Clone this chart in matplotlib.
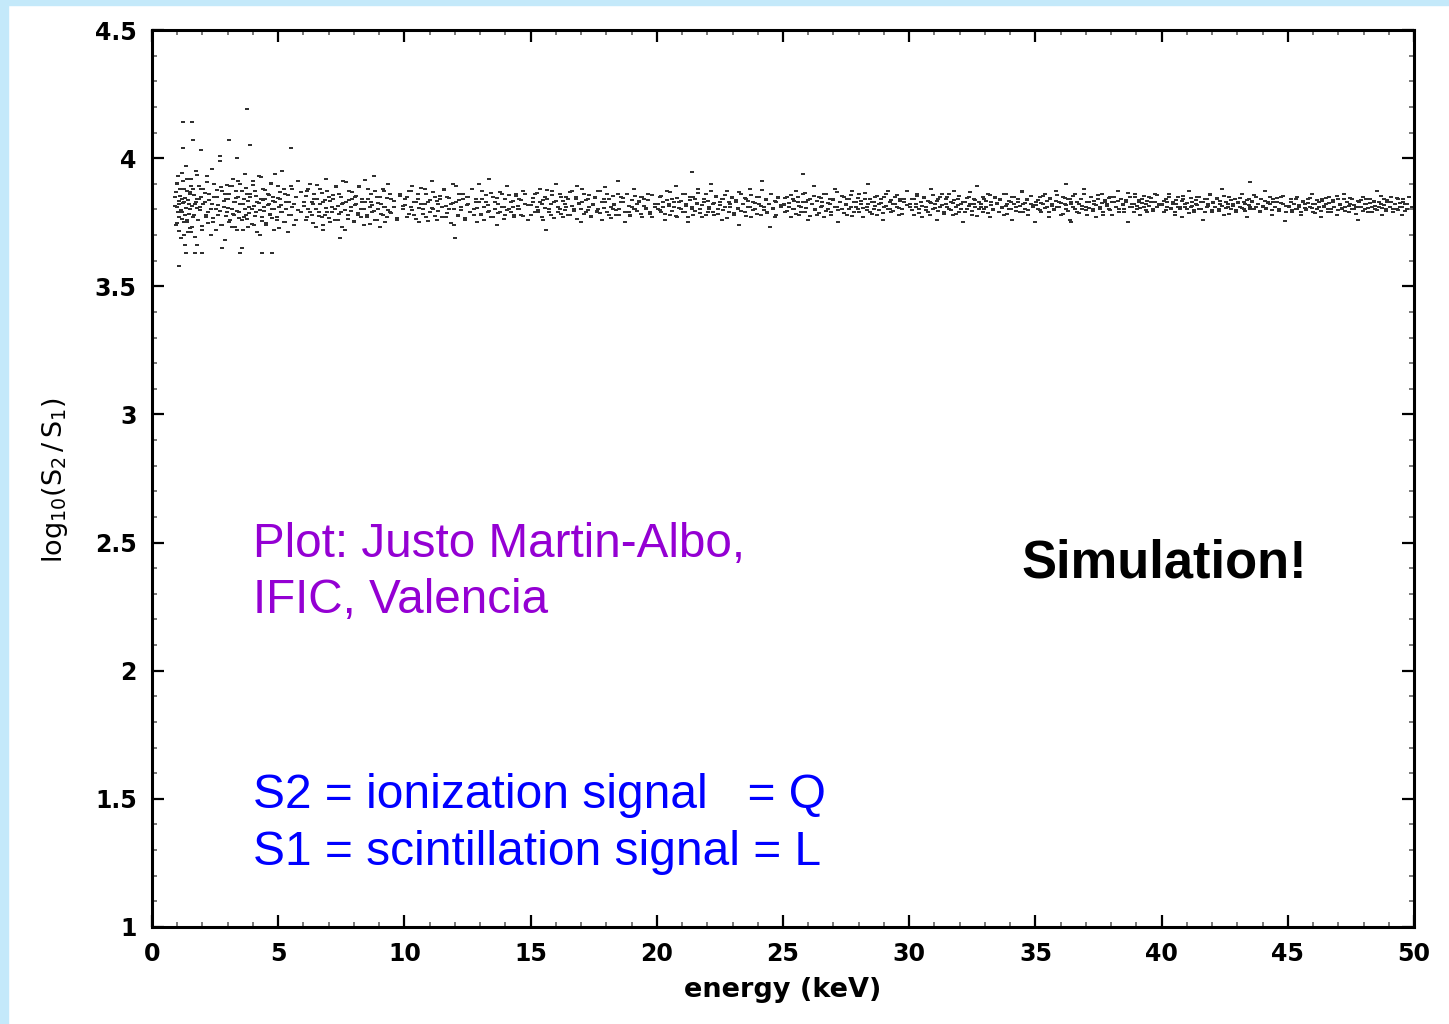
import numpy as np
import matplotlib.pyplot as plt
from matplotlib.patches import Rectangle
from matplotlib.ticker import MultipleLocator

# Punkty: energia [keV] i log10(S2/S1), w przedzialach energii.
# Dla kazdej energii sa dwa zdarzenia (r_... i r2_...).
e_01_03 = [0.92, 0.95, 0.98, 1.01, 1.03, 1.06, 1.08, 1.11, 1.14, 1.17,
           1.19, 1.22, 1.25, 1.28, 1.31, 1.34, 1.37, 1.40, 1.43, 1.46,
           1.49, 1.52, 1.55, 1.59, 1.62, 1.66, 1.69, 1.73, 1.77, 1.80,
           1.84, 1.88, 1.92, 1.96, 2.00, 2.04, 2.09, 2.13, 2.18, 2.22,
           2.27, 2.32, 2.37, 2.42, 2.47, 2.52, 2.57, 2.62, 2.68, 2.73,
           2.79, 2.84, 2.89, 2.94, 2.99]
r_01_03 = [3.85, 3.74, 3.90, 3.81, 3.93, 3.77, 3.82, 3.88, 3.69, 3.84,
           3.79, 3.91, 3.75, 3.83, 3.78, 3.97, 3.76, 3.87, 3.71, 3.82,
           3.86, 3.80, 3.92, 3.73, 3.88, 3.78, 3.82, 3.95, 3.66, 3.84,
           3.76, 3.89, 3.81, 3.85, 3.72, 3.88, 3.83, 3.77, 3.93, 3.79,
           3.86, 3.70, 3.82, 3.75, 3.90, 3.80, 3.85, 3.78, 3.99, 3.74,
           3.87, 3.81, 3.68, 3.84, 3.79]
r2_01_03 = [3.812, 3.867, 3.745, 3.903, 3.788, 3.834, 3.716, 3.851, 3.797, 3.942,
            3.763, 3.826, 3.879, 3.701, 3.845, 3.807, 3.918, 3.752, 3.838, 3.784,
            3.869, 3.727, 3.893, 3.815, 3.771, 3.856, 3.692, 3.829, 3.804, 3.934,
            3.758, 3.842, 3.796, 3.881, 3.737, 3.822, 3.863, 3.779, 3.908, 3.748,
            3.836, 3.801, 3.957, 3.766, 3.848, 3.721, 3.874, 3.818, 3.792, 3.886,
            3.741, 3.831, 3.859, 3.773, 3.897]

e_03_06 = [3.02, 3.06, 3.11, 3.15, 3.19, 3.24, 3.28, 3.33, 3.37, 3.41,
           3.46, 3.50, 3.55, 3.59, 3.63, 3.68, 3.72, 3.77, 3.81, 3.86,
           3.90, 3.95, 3.99, 4.04, 4.08, 4.13, 4.17, 4.22, 4.26, 4.31,
           4.35, 4.40, 4.44, 4.49, 4.53, 4.58, 4.62, 4.67, 4.71, 4.76,
           4.80, 4.85, 4.89, 4.94, 4.98, 5.03, 5.08, 5.12, 5.17, 5.22,
           5.27, 5.32, 5.38, 5.43, 5.49, 5.55, 5.62, 5.70, 5.79, 5.90]
r_03_06 = [3.84, 3.75, 3.89, 3.80, 3.92, 3.78, 3.83, 3.87, 3.72, 3.85,
           3.79, 3.90, 3.76, 3.82, 3.77, 3.94, 3.78, 3.86, 3.73, 3.81,
           3.85, 3.80, 3.91, 3.74, 3.87, 3.79, 3.83, 3.93, 3.70, 3.84,
           3.77, 3.88, 3.81, 3.84, 3.74, 3.86, 3.82, 3.78, 3.90, 3.80,
           3.85, 3.72, 3.83, 3.76, 3.89, 3.81, 3.84, 3.79, 3.95, 3.75,
           3.86, 3.80, 3.71, 3.83, 3.78, 3.88, 3.82, 3.76, 3.91, 3.79]
r2_03_06 = [3.806, 3.859, 3.757, 3.893, 3.781, 3.828, 3.732, 3.846, 3.795, 3.912,
            3.768, 3.823, 3.871, 3.719, 3.841, 3.803, 3.884, 3.761, 3.834, 3.787,
            3.862, 3.743, 3.897, 3.814, 3.776, 3.851, 3.711, 3.826, 3.798, 3.926,
            3.754, 3.838, 3.792, 3.877, 3.746, 3.819, 3.857, 3.783, 3.903, 3.765,
            3.832, 3.801, 3.937, 3.771, 3.844, 3.728, 3.868, 3.816, 3.789, 3.881,
            3.752, 3.829, 3.855, 3.778, 3.891, 3.811, 3.739, 3.848, 3.797, 3.866]

e_06_10 = [6.03, 6.09, 6.15, 6.20, 6.26, 6.32, 6.37, 6.43, 6.49, 6.55,
           6.61, 6.66, 6.72, 6.78, 6.84, 6.89, 6.95, 7.01, 7.07, 7.12,
           7.18, 7.24, 7.30, 7.35, 7.41, 7.47, 7.53, 7.58, 7.64, 7.70,
           7.76, 7.81, 7.87, 7.93, 7.99, 8.04, 8.10, 8.16, 8.22, 8.27,
           8.33, 8.39, 8.45, 8.50, 8.56, 8.62, 8.68, 8.73, 8.79, 8.85,
           8.91, 8.96, 9.02, 9.08, 9.14, 9.19, 9.25, 9.31, 9.37, 9.42,
           9.48, 9.60, 9.71, 9.83, 9.94]
r_06_10 = [3.83, 3.76, 3.87, 3.80, 3.90, 3.78, 3.82, 3.86, 3.73, 3.84,
           3.79, 3.88, 3.77, 3.83, 3.78, 3.92, 3.79, 3.85, 3.75, 3.81,
           3.84, 3.80, 3.89, 3.76, 3.86, 3.79, 3.82, 3.91, 3.72, 3.83,
           3.78, 3.87, 3.81, 3.84, 3.75, 3.85, 3.82, 3.78, 3.89, 3.80,
           3.84, 3.74, 3.83, 3.77, 3.88, 3.81, 3.83, 3.79, 3.93, 3.76,
           3.85, 3.80, 3.73, 3.82, 3.78, 3.87, 3.81, 3.77, 3.90, 3.79,
           3.84, 3.81, 3.76, 3.86, 3.80]
r2_06_10 = [3.813, 3.852, 3.769, 3.881, 3.791, 3.827, 3.748, 3.842, 3.801, 3.896,
            3.774, 3.821, 3.864, 3.738, 3.838, 3.806, 3.873, 3.766, 3.833, 3.789,
            3.857, 3.757, 3.886, 3.815, 3.781, 3.847, 3.731, 3.825, 3.798, 3.907,
            3.762, 3.836, 3.794, 3.869, 3.755, 3.818, 3.851, 3.785, 3.889, 3.771,
            3.829, 3.803, 3.914, 3.777, 3.841, 3.743, 3.862, 3.816, 3.792, 3.871,
            3.759, 3.826, 3.849, 3.782, 3.879, 3.809, 3.751, 3.844, 3.797, 3.859,
            3.786, 3.834, 3.768, 3.853, 3.812]

e_10_15 = [10.04, 10.11, 10.18, 10.25, 10.31, 10.38, 10.46, 10.52, 10.59, 10.66,
           10.73, 10.80, 10.87, 10.93, 11.01, 11.08, 11.14, 11.21, 11.29, 11.35,
           11.42, 11.49, 11.56, 11.63, 11.70, 11.77, 11.83, 11.91, 11.98, 12.04,
           12.12, 12.18, 12.26, 12.33, 12.39, 12.47, 12.53, 12.61, 12.68, 12.74,
           12.82, 12.88, 12.95, 13.03, 13.09, 13.16, 13.24, 13.30, 13.37, 13.45,
           13.51, 13.58, 13.66, 13.72, 13.79, 13.87, 13.93, 14.00, 14.08, 14.14,
           14.21, 14.29, 14.35, 14.42, 14.50, 14.56, 14.63, 14.71, 14.78, 14.91]
r_10_15 = [3.84, 3.77, 3.87, 3.81, 3.89, 3.78, 3.83, 3.86, 3.75, 3.82,
           3.80, 3.88, 3.77, 3.83, 3.79, 3.91, 3.80, 3.85, 3.76, 3.82,
           3.84, 3.81, 3.88, 3.77, 3.85, 3.80, 3.82, 3.90, 3.74, 3.83,
           3.78, 3.86, 3.81, 3.84, 3.76, 3.85, 3.82, 3.79, 3.88, 3.80,
           3.84, 3.75, 3.83, 3.78, 3.87, 3.81, 3.83, 3.79, 3.92, 3.77,
           3.85, 3.80, 3.74, 3.82, 3.79, 3.86, 3.81, 3.78, 3.89, 3.80,
           3.83, 3.81, 3.77, 3.86, 3.80, 3.84, 3.78, 3.87, 3.82, 3.76]
r2_10_15 = [3.816, 3.848, 3.781, 3.871, 3.796, 3.829, 3.762, 3.839, 3.804, 3.883,
            3.784, 3.822, 3.859, 3.755, 3.836, 3.807, 3.866, 3.776, 3.831, 3.793,
            3.853, 3.769, 3.877, 3.814, 3.787, 3.844, 3.748, 3.826, 3.801, 3.892,
            3.773, 3.835, 3.797, 3.862, 3.766, 3.819, 3.849, 3.789, 3.879, 3.779,
            3.828, 3.805, 3.898, 3.783, 3.841, 3.758, 3.857, 3.817, 3.795, 3.864,
            3.771, 3.827, 3.846, 3.786, 3.869, 3.811, 3.764, 3.842, 3.799, 3.855,
            3.791, 3.833, 3.777, 3.851, 3.813, 3.802, 3.838, 3.774, 3.861, 3.819]

e_15_20 = [15.03, 15.10, 15.16, 15.24, 15.30, 15.37, 15.45, 15.51, 15.58, 15.66,
           15.72, 15.79, 15.86, 15.94, 16.00, 16.07, 16.15, 16.21, 16.28, 16.36,
           16.42, 16.49, 16.57, 16.63, 16.70, 16.78, 16.84, 16.91, 16.99, 17.05,
           17.12, 17.20, 17.26, 17.33, 17.41, 17.47, 17.54, 17.62, 17.68, 17.75,
           17.83, 17.89, 17.96, 18.04, 18.10, 18.17, 18.25, 18.31, 18.38, 18.46,
           18.52, 18.59, 18.67, 18.73, 18.80, 18.88, 18.94, 19.01, 19.09, 19.15,
           19.22, 19.30, 19.36, 19.43, 19.51, 19.57, 19.64, 19.72, 19.80, 19.92]
r_15_20 = [3.78, 3.83, 3.86, 3.81, 3.79, 3.88, 3.82, 3.76, 3.85, 3.84,
           3.80, 3.78, 3.87, 3.83, 3.90, 3.79, 3.80, 3.85, 3.77, 3.82,
           3.81, 3.84, 3.78, 3.87, 3.80, 3.85, 3.89, 3.82, 3.75, 3.83,
           3.86, 3.79, 3.84, 3.81, 3.77, 3.82, 3.85, 3.79, 3.80, 3.87,
           3.76, 3.84, 3.83, 3.86, 3.78, 3.81, 3.80, 3.82, 3.78, 3.91,
           3.80, 3.85, 3.83, 3.75, 3.86, 3.79, 3.78, 3.81, 3.88, 3.80,
           3.82, 3.83, 3.85, 3.77, 3.84, 3.80, 3.86, 3.79, 3.77, 3.81]
r2_15_20 = [3.818, 3.845, 3.788, 3.864, 3.799, 3.828, 3.771, 3.837, 3.806, 3.874,
            3.791, 3.821, 3.855, 3.766, 3.834, 3.809, 3.861, 3.783, 3.831, 3.797,
            3.849, 3.778, 3.869, 3.815, 3.792, 3.842, 3.761, 3.826, 3.803, 3.881,
            3.781, 3.835, 3.798, 3.858, 3.775, 3.819, 3.846, 3.794, 3.871, 3.786,
            3.827, 3.807, 3.887, 3.789, 3.839, 3.768, 3.853, 3.817, 3.796, 3.859,
            3.779, 3.829, 3.843, 3.791, 3.862, 3.812, 3.773, 3.838, 3.801, 3.851,
            3.795, 3.833, 3.784, 3.847, 3.814, 3.804, 3.836, 3.782, 3.856, 3.821]

e_20_25 = [20.05, 20.12, 20.18, 20.26, 20.33, 20.39, 20.47, 20.54, 20.60, 20.68,
           20.75, 20.81, 20.89, 20.96, 21.02, 21.10, 21.17, 21.23, 21.31, 21.38,
           21.44, 21.52, 21.59, 21.65, 21.73, 21.80, 21.86, 21.94, 22.01, 22.07,
           22.15, 22.22, 22.28, 22.36, 22.43, 22.49, 22.57, 22.64, 22.70, 22.78,
           22.85, 22.91, 22.99, 23.06, 23.12, 23.20, 23.27, 23.33, 23.41, 23.48,
           23.54, 23.62, 23.69, 23.75, 23.83, 23.90, 23.96, 24.04, 24.11, 24.17,
           24.25, 24.32, 24.38, 24.46, 24.53, 24.59, 24.67, 24.74, 24.82, 24.93]
r_20_25 = [3.80, 3.85, 3.79, 3.83, 3.76, 3.87, 3.82, 3.78, 3.84, 3.81,
           3.89, 3.77, 3.83, 3.80, 3.86, 3.79, 3.82, 3.75, 3.85, 3.81,
           3.78, 3.84, 3.82, 3.88, 3.80, 3.77, 3.83, 3.86, 3.79, 3.81,
           3.90, 3.82, 3.78, 3.85, 3.80, 3.83, 3.76, 3.84, 3.81, 3.87,
           3.79, 3.82, 3.85, 3.78, 3.83, 3.80, 3.74, 3.86, 3.82, 3.79,
           3.84, 3.81, 3.88, 3.77, 3.83, 3.80, 3.85, 3.82, 3.78, 3.91,
           3.81, 3.84, 3.79, 3.82, 3.86, 3.80, 3.77, 3.83, 3.85, 3.81]
r2_20_25 = [3.823, 3.797, 3.851, 3.809, 3.784, 3.838, 3.815, 3.866, 3.792, 3.829,
            3.776, 3.844, 3.806, 3.831, 3.789, 3.859, 3.812, 3.771, 3.836, 3.801,
            3.848, 3.794, 3.826, 3.864, 3.786, 3.818, 3.841, 3.779, 3.833, 3.803,
            3.872, 3.791, 3.824, 3.852, 3.782, 3.816, 3.839, 3.798, 3.857, 3.767,
            3.828, 3.811, 3.846, 3.787, 3.835, 3.805, 3.869, 3.793, 3.821, 3.843,
            3.774, 3.831, 3.808, 3.855, 3.796, 3.826, 3.781, 3.849, 3.813, 3.877,
            3.799, 3.837, 3.785, 3.822, 3.861, 3.804, 3.832, 3.778, 3.845, 3.817]

e_25_30 = [25.02, 25.09, 25.17, 25.23, 25.30, 25.38, 25.44, 25.51, 25.59, 25.65,
           25.72, 25.80, 25.86, 25.93, 26.01, 26.07, 26.14, 26.22, 26.28, 26.35,
           26.43, 26.49, 26.56, 26.64, 26.70, 26.77, 26.85, 26.91, 26.98, 27.06,
           27.12, 27.19, 27.27, 27.33, 27.40, 27.48, 27.54, 27.61, 27.69, 27.75,
           27.82, 27.90, 27.96, 28.03, 28.11, 28.17, 28.24, 28.32, 28.38, 28.45,
           28.53, 28.59, 28.66, 28.74, 28.80, 28.87, 28.95, 29.01, 29.08, 29.16,
           29.22, 29.29, 29.37, 29.43, 29.50, 29.58, 29.64, 29.71, 29.79, 29.90]
r_25_30 = [3.82, 3.79, 3.85, 3.81, 3.77, 3.84, 3.80, 3.87, 3.83, 3.78,
           3.81, 3.86, 3.79, 3.83, 3.76, 3.84, 3.82, 3.89, 3.80, 3.78,
           3.85, 3.81, 3.83, 3.77, 3.86, 3.80, 3.82, 3.79, 3.84, 3.88,
           3.81, 3.75, 3.83, 3.80, 3.85, 3.82, 3.78, 3.84, 3.81, 3.87,
           3.79, 3.83, 3.80, 3.86, 3.82, 3.77, 3.84, 3.81, 3.90, 3.79,
           3.83, 3.80, 3.85, 3.78, 3.82, 3.84, 3.76, 3.81, 3.86, 3.80,
           3.83, 3.79, 3.82, 3.85, 3.81, 3.78, 3.84, 3.80, 3.83, 3.87]
r2_25_30 = [3.817, 3.843, 3.795, 3.826, 3.858, 3.801, 3.834, 3.782, 3.848, 3.812,
            3.791, 3.829, 3.865, 3.806, 3.838, 3.776, 3.821, 3.852, 3.798, 3.831,
            3.787, 3.846, 3.814, 3.861, 3.793, 3.824, 3.839, 3.779, 3.835, 3.808,
            3.869, 3.797, 3.827, 3.851, 3.786, 3.819, 3.842, 3.803, 3.856, 3.773,
            3.828, 3.811, 3.844, 3.789, 3.833, 3.807, 3.863, 3.796, 3.822, 3.841,
            3.781, 3.829, 3.812, 3.853, 3.799, 3.825, 3.785, 3.847, 3.815, 3.871,
            3.801, 3.836, 3.792, 3.823, 3.857, 3.806, 3.831, 3.783, 3.842, 3.818]

e_30_35 = [30.04, 30.10, 30.18, 30.25, 30.31, 30.39, 30.46, 30.52, 30.60, 30.67,
           30.73, 30.81, 30.88, 30.94, 31.02, 31.09, 31.15, 31.23, 31.30, 31.36,
           31.44, 31.51, 31.57, 31.65, 31.72, 31.78, 31.86, 31.93, 31.99, 32.07,
           32.14, 32.20, 32.28, 32.35, 32.41, 32.49, 32.56, 32.62, 32.70, 32.77,
           32.83, 32.91, 32.98, 33.04, 33.12, 33.19, 33.25, 33.33, 33.40, 33.46,
           33.54, 33.61, 33.67, 33.75, 33.82, 33.88, 33.96, 34.03, 34.09, 34.17,
           34.24, 34.30, 34.38, 34.45, 34.51, 34.59, 34.66, 34.72, 34.81, 34.92]
r_30_35 = [3.81, 3.84, 3.78, 3.82, 3.86, 3.80, 3.83, 3.77, 3.85, 3.81,
           3.79, 3.83, 3.88, 3.80, 3.82, 3.76, 3.84, 3.81, 3.86, 3.79,
           3.82, 3.85, 3.80, 3.83, 3.78, 3.87, 3.81, 3.84, 3.79, 3.82,
           3.75, 3.83, 3.80, 3.85, 3.82, 3.78, 3.84, 3.81, 3.89, 3.80,
           3.82, 3.79, 3.84, 3.81, 3.86, 3.77, 3.83, 3.80, 3.85, 3.82,
           3.79, 3.84, 3.81, 3.78, 3.86, 3.82, 3.80, 3.83, 3.76, 3.85,
           3.81, 3.83, 3.79, 3.87, 3.82, 3.80, 3.84, 3.78, 3.82, 3.81]
r2_30_35 = [3.821, 3.796, 3.839, 3.808, 3.853, 3.787, 3.828, 3.813, 3.846, 3.799,
            3.834, 3.779, 3.824, 3.857, 3.805, 3.831, 3.792, 3.849, 3.816, 3.784,
            3.841, 3.809, 3.862, 3.797, 3.826, 3.836, 3.781, 3.819, 3.852, 3.803,
            3.829, 3.789, 3.845, 3.814, 3.866, 3.794, 3.823, 3.838, 3.776, 3.827,
            3.811, 3.848, 3.801, 3.833, 3.786, 3.855, 3.818, 3.798, 3.843, 3.825,
            3.791, 3.837, 3.806, 3.859, 3.815, 3.783, 3.831, 3.802, 3.847, 3.822,
            3.795, 3.841, 3.812, 3.869, 3.788, 3.826, 3.835, 3.799, 3.851, 3.817]

e_35_40 = [35.03, 35.11, 35.17, 35.24, 35.32, 35.38, 35.45, 35.53, 35.59, 35.66,
           35.74, 35.80, 35.87, 35.95, 36.01, 36.08, 36.16, 36.22, 36.29, 36.37,
           36.43, 36.50, 36.58, 36.64, 36.71, 36.79, 36.85, 36.92, 37.00, 37.06,
           37.13, 37.21, 37.27, 37.34, 37.42, 37.48, 37.55, 37.63, 37.69, 37.76,
           37.84, 37.90, 37.97, 38.05, 38.11, 38.18, 38.26, 38.32, 38.39, 38.47,
           38.53, 38.60, 38.68, 38.74, 38.81, 38.89, 38.95, 39.02, 39.10, 39.16,
           39.23, 39.31, 39.37, 39.44, 39.52, 39.58, 39.65, 39.73, 39.81, 39.91]
r_35_40 = [3.83, 3.80, 3.85, 3.79, 3.82, 3.86, 3.81, 3.77, 3.84, 3.82,
           3.80, 3.87, 3.81, 3.83, 3.78, 3.85, 3.82, 3.80, 3.84, 3.76,
           3.83, 3.81, 3.86, 3.79, 3.82, 3.84, 3.80, 3.88, 3.81, 3.78,
           3.83, 3.85, 3.80, 3.82, 3.77, 3.84, 3.81, 3.86, 3.79, 3.83,
           3.82, 3.80, 3.85, 3.78, 3.83, 3.81, 3.87, 3.80, 3.84, 3.82,
           3.79, 3.83, 3.75, 3.85, 3.81, 3.82, 3.86, 3.80, 3.83, 3.78,
           3.84, 3.81, 3.82, 3.79, 3.85, 3.83, 3.80, 3.86, 3.81, 3.82]
r2_35_40 = [3.819, 3.838, 3.797, 3.826, 3.851, 3.805, 3.831, 3.789, 3.843, 3.812,
            3.799, 3.834, 3.857, 3.808, 3.824, 3.783, 3.846, 3.816, 3.794, 3.839,
            3.821, 3.853, 3.802, 3.829, 3.786, 3.841, 3.814, 3.861, 3.798, 3.827,
            3.807, 3.848, 3.792, 3.833, 3.817, 3.855, 3.803, 3.825, 3.779, 3.836,
            3.813, 3.844, 3.796, 3.828, 3.849, 3.809, 3.831, 3.788, 3.842, 3.818,
            3.801, 3.835, 3.864, 3.811, 3.823, 3.791, 3.847, 3.815, 3.837, 3.804,
            3.826, 3.852, 3.798, 3.832, 3.812, 3.845, 3.793, 3.829, 3.858, 3.816]

e_40_45 = [40.02, 40.10, 40.16, 40.23, 40.31, 40.37, 40.44, 40.52, 40.58, 40.65,
           40.73, 40.79, 40.86, 40.94, 41.00, 41.07, 41.15, 41.21, 41.28, 41.36,
           41.42, 41.49, 41.57, 41.63, 41.70, 41.78, 41.84, 41.91, 41.99, 42.05,
           42.12, 42.20, 42.26, 42.33, 42.41, 42.47, 42.54, 42.62, 42.68, 42.75,
           42.83, 42.89, 42.96, 43.04, 43.10, 43.17, 43.25, 43.31, 43.38, 43.46,
           43.52, 43.59, 43.67, 43.73, 43.80, 43.88, 43.94, 44.01, 44.09, 44.15,
           44.22, 44.30, 44.36, 44.43, 44.51, 44.57, 44.64, 44.72, 44.80, 44.92]
r_40_45 = [3.82, 3.79, 3.84, 3.81, 3.86, 3.80, 3.83, 3.78, 3.82, 3.85,
           3.81, 3.77, 3.84, 3.82, 3.80, 3.87, 3.81, 3.83, 3.79, 3.82,
           3.85, 3.80, 3.83, 3.76, 3.84, 3.81, 3.82, 3.86, 3.79, 3.83,
           3.81, 3.84, 3.80, 3.82, 3.88, 3.78, 3.83, 3.81, 3.85, 3.80,
           3.82, 3.84, 3.79, 3.83, 3.81, 3.86, 3.80, 3.82, 3.77, 3.84,
           3.81, 3.83, 3.80, 3.85, 3.82, 3.79, 3.84, 3.81, 3.87, 3.80,
           3.83, 3.82, 3.78, 3.84, 3.81, 3.83, 3.80, 3.85, 3.82, 3.79]
r2_40_45 = [3.816, 3.834, 3.798, 3.827, 3.847, 3.806, 3.822, 3.789, 3.838, 3.811,
            3.801, 3.831, 3.852, 3.809, 3.825, 3.787, 3.843, 3.814, 3.796, 3.836,
            3.819, 3.848, 3.803, 3.828, 3.791, 3.839, 3.812, 3.856, 3.799, 3.824,
            3.808, 3.844, 3.794, 3.831, 3.815, 3.851, 3.804, 3.823, 3.782, 3.835,
            3.813, 3.841, 3.797, 3.826, 3.846, 3.807, 3.829, 3.792, 3.837, 3.817,
            3.802, 3.833, 3.858, 3.811, 3.821, 3.793, 3.842, 3.814, 3.832, 3.805,
            3.825, 3.849, 3.799, 3.828, 3.811, 3.843, 3.795, 3.826, 3.853, 3.815]

e_45_50 = [45.04, 45.11, 45.17, 45.25, 45.32, 45.38, 45.46, 45.53, 45.59, 45.67,
           45.74, 45.80, 45.88, 45.95, 46.01, 46.09, 46.16, 46.22, 46.30, 46.37,
           46.43, 46.51, 46.58, 46.64, 46.72, 46.79, 46.85, 46.93, 47.00, 47.06,
           47.14, 47.21, 47.27, 47.35, 47.42, 47.48, 47.56, 47.63, 47.69, 47.77,
           47.84, 47.90, 47.98, 48.05, 48.11, 48.19, 48.26, 48.32, 48.40, 48.47,
           48.53, 48.61, 48.68, 48.74, 48.82, 48.89, 48.95, 49.03, 49.10, 49.16,
           49.24, 49.31, 49.37, 49.45, 49.52, 49.58, 49.66, 49.73, 49.81, 49.93]
r_45_50 = [3.81, 3.84, 3.79, 3.82, 3.80, 3.85, 3.81, 3.78, 3.83, 3.82,
           3.80, 3.84, 3.81, 3.86, 3.79, 3.82, 3.80, 3.83, 3.77, 3.84,
           3.81, 3.82, 3.79, 3.85, 3.80, 3.83, 3.81, 3.78, 3.84, 3.82,
           3.80, 3.86, 3.81, 3.83, 3.79, 3.82, 3.84, 3.80, 3.81, 3.76,
           3.83, 3.81, 3.85, 3.80, 3.82, 3.79, 3.84, 3.81, 3.83, 3.80,
           3.87, 3.81, 3.82, 3.78, 3.84, 3.80, 3.83, 3.81, 3.85, 3.79,
           3.82, 3.80, 3.84, 3.81, 3.78, 3.83, 3.82, 3.80, 3.85, 3.81]
r2_45_50 = [3.812, 3.829, 3.796, 3.822, 3.841, 3.803, 3.818, 3.788, 3.833, 3.807,
            3.798, 3.826, 3.846, 3.805, 3.821, 3.786, 3.838, 3.811, 3.794, 3.831,
            3.815, 3.843, 3.801, 3.824, 3.791, 3.835, 3.809, 3.851, 3.797, 3.819,
            3.804, 3.839, 3.793, 3.827, 3.812, 3.845, 3.801, 3.819, 3.781, 3.831,
            3.809, 3.836, 3.795, 3.822, 3.841, 3.804, 3.825, 3.789, 3.832, 3.813,
            3.799, 3.828, 3.853, 3.807, 3.817, 3.792, 3.837, 3.811, 3.828, 3.802,
            3.821, 3.844, 3.796, 3.824, 3.808, 3.839, 3.793, 3.822, 3.848, 3.811]

# pojedyncze punkty odstajace od pasma
e_out = [1.07, 1.23, 1.23, 1.31, 1.35, 1.55, 1.58, 1.62, 1.70, 1.78,
         1.94, 1.98, 2.70, 2.77, 3.05, 3.17, 3.37, 3.49, 3.57, 3.76,
         3.88, 4.36, 4.75, 5.50, 6.78, 7.45, 12.0, 15.6, 21.4, 24.5,
         25.8, 35.0, 36.2, 36.4, 43.5, 44.9]
r_out = [3.58, 4.14, 4.04, 3.66, 3.63, 3.71, 4.14, 4.07, 3.63, 3.66,
         4.03, 3.63, 4.01, 3.65, 4.07, 3.73, 4.00, 3.63, 3.65, 4.19,
         4.05, 3.63, 3.63, 4.04, 3.72, 3.69, 3.69, 3.72, 3.945, 3.73,
         3.94, 3.75, 3.90, 3.75, 3.905, 3.755]

e_seg = [e_01_03, e_03_06, e_06_10, e_10_15, e_15_20, e_20_25,
         e_25_30, e_30_35, e_35_40, e_40_45, e_45_50]
r_seg = [r_01_03, r_03_06, r_06_10, r_10_15, r_15_20, r_20_25,
         r_25_30, r_30_35, r_35_40, r_40_45, r_45_50]
r2_seg = [r2_01_03, r2_03_06, r2_06_10, r2_10_15, r2_15_20, r2_20_25,
          r2_25_30, r2_30_35, r2_35_40, r2_40_45, r2_45_50]

energy = np.concatenate(e_seg + e_seg + [e_out])
ratio = np.concatenate(r_seg + r2_seg + [r_out])

W, H = 1449, 1024
fig = plt.figure(figsize=(W / 100, H / 100), dpi=100)
fig.patch.set_facecolor('white')

# jasnoniebieska ramka slajdu (gora i lewa strona)
fig.patches.append(Rectangle((0, 1 - 5 / H), 1, 5 / H, transform=fig.transFigure,
                             color='#c4e9fa', zorder=0))
fig.patches.append(Rectangle((0, 0), 8 / W, 1, transform=fig.transFigure,
                             color='#c4e9fa', zorder=0))

ax = fig.add_axes([152 / W, 97 / H, 1262 / W, 897 / H])
# male poziome kreski jak w oryginale
dash = [(-1, -0.45), (1, -0.45), (1, 0.45), (-1, 0.45)]
ax.scatter(energy, ratio, s=6, c='#303030', marker=dash, linewidths=0)

ax.set_xlim(0, 50)
ax.set_ylim(1, 4.5)
ax.xaxis.set_minor_locator(MultipleLocator(1))
ax.yaxis.set_minor_locator(MultipleLocator(0.1))
ax.set_xticks([0, 5, 10, 15, 20, 25, 30, 35, 40, 45, 50])
ax.set_xticklabels(['0', '5', '10', '15', '20', '25', '30', '35', '40', '45', '50'])
ax.set_yticks([1, 1.5, 2, 2.5, 3, 3.5, 4, 4.5])
ax.set_yticklabels(['1', '1.5', '2', '2.5', '3', '3.5', '4', '4.5'])

for sp_ in ax.spines.values():
    sp_.set_linewidth(2.2)
ax.tick_params(which='both', direction='in', top=True, right=True)
ax.tick_params(which='major', length=8.5, width=1.6, pad=11)
ax.tick_params(which='minor', length=3.6, width=1.1, color='#555555')
for lab in ax.get_xticklabels() + ax.get_yticklabels():
    lab.set_family('DejaVu Sans')
    lab.set_fontweight('bold')
    lab.set_fontsize(17)

plt.rcParams['mathtext.fontset'] = 'dejavusans'
fig.text(783 / W, 1 - 990 / H, 'energy (keV)', ha='center', va='center',
         family='DejaVu Sans', fontweight='bold', fontsize=19.5)
fig.text(55 / W, 1 - 480 / H, r'$\mathregular{log_{10}(S_2\,/\,S_1)}$',
         ha='center', va='center', rotation=90, family='DejaVu Sans', fontsize=19.5)

ax.text(4.0, 2.444, 'Plot: Justo Martin-Albo,', color='#9400d3',
        family='Liberation Sans', fontsize=34.3, va='baseline')
ax.text(4.0, 2.225, 'IFIC, Valencia', color='#9400d3',
        family='Liberation Sans', fontsize=34.3, va='baseline')
ax.text(34.45, 2.362, 'Simulation!', color='black', family='Liberation Sans',
        fontweight='bold', fontsize=37.8, va='baseline')
ax.text(4.0, 1.466, 'S2 = ionization signal   = Q', color='#0000ff',
        family='Liberation Sans', fontsize=34.5, va='baseline')
ax.text(4.0, 1.240, 'S1 = scintillation signal = L', color='#0000ff',
        family='Liberation Sans', fontsize=34.5, va='baseline')

fig.savefig('out.png', dpi=100)
